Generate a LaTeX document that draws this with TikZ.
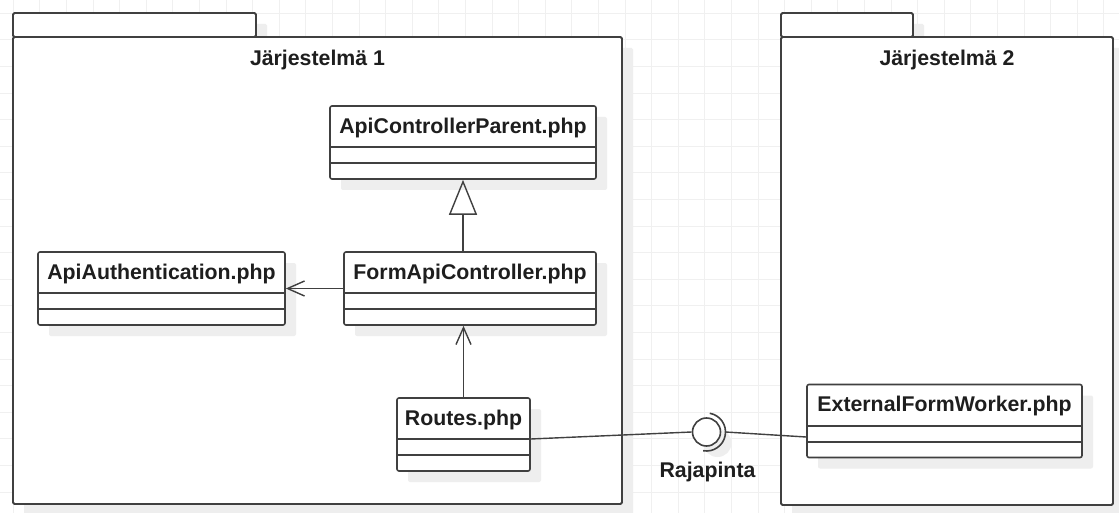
\documentclass[tikz,border=0pt]{standalone}
\usepackage{fontspec}
\setmainfont{Liberation Sans}
\usetikzlibrary{arrows.meta,shadows}
\definecolor{umlline}{RGB}{64,64,64}
\definecolor{umltext}{RGB}{30,30,30}
\definecolor{gridgray}{RGB}{240,240,240}
\definecolor{shadowgray}{RGB}{238,238,238}

\tikzset{
  boxshadow/.style={drop shadow={shadow xshift=11pt, shadow yshift=-11pt, fill=shadowgray, opacity=1}},
  gridline/.style={draw=gridgray, line width=1pt},
  pkgbox/.style={draw=umlline, line width=1.8pt, fill=white, rounded corners=1.5pt, boxshadow},
  classbox/.style={draw=umlline, line width=1.6pt, fill=white, rounded corners=2pt, minimum height=73pt, inner sep=0pt, boxshadow},
  umllabel/.style={anchor=base, text=umltext, font=\fontsize{21.3}{25}\selectfont\bfseries, inner sep=0pt},
  compline/.style={draw=umlline, line width=1.6pt},
  assoc/.style={draw=umlline, line width=1.4pt},
  dep/.style={assoc, -{Straight Barb[length=17pt, width=15pt]}},
  gen/.style={assoc, -{Triangle[open, length=35pt, width=28pt]}},
}

% class box: name, centre, width, text
\newcommand{\phpclass}[4]{%
  \node[classbox, minimum width=#3] (#1) at (#2) {};
  \node[umllabel] (#1-name) at ([yshift=-28pt]#1.north) {#4};
  \draw[compline] ([yshift=-42pt]#1.north west) -- ([yshift=-42pt]#1.north east);
  \draw[compline] ([yshift=-58pt]#1.north west) -- ([yshift=-58pt]#1.north east);
}

\begin{document}
\begin{tikzpicture}[x=1pt, y=-1pt]
\fill[white] (0,0) rectangle (1119,513);
\useasboundingbox (0,0) rectangle (1119,513);

% grid
\foreach \gx in {13.3,39.9,...,1119}
  \draw[gridline] (\gx,0) -- (\gx,513);
\foreach \gy in {13.3,39.9,...,513}
  \draw[gridline] (0,\gy) -- (1119,\gy);

% packages
\draw[pkgbox] (13,13) rectangle (256,37);
\draw[pkgbox] (13,37) rectangle (622,504);
\node[umllabel] (sys1) at (317.5,66) {Järjestelmä 1};

\draw[pkgbox] (781,13) rectangle (913,37);
\draw[pkgbox] (781,37) rectangle (1113,505);
\node[umllabel] (sys2) at (947,66) {Järjestelmä 2};

% classes
\phpclass{parent}{463,142.5}{266pt}{ApiControllerParent.php}
\phpclass{form}{470,288.5}{252pt}{FormApiController.php}
\phpclass{auth}{161.5,288.5}{247pt}{ApiAuthentication.php}
\phpclass{routes}{463.5,434.5}{133pt}{Routes.php}
\phpclass{worker}{944.5,421}{275pt}{ExternalFormWorker.php}

% interface
\node[circle, draw=umlline, line width=1.6pt, fill=white, minimum size=28pt, inner sep=0pt, boxshadow] (rajapinta) at (706.5,432) {};
\draw[umlline, line width=1.6pt] ([shift={(-80:19)}]rajapinta.center) arc[start angle=-80, end angle=100, radius=19];
\coordinate (socket) at ([xshift=19pt]rajapinta.center);
\node[umllabel] (rajapinta-label) at (707.5,477) {Rajapinta};

% connectors
\draw[gen] (parent.south |- form.north) -- (parent.south);
\draw[dep] (form.west) -- (auth.east);
\draw[dep] (routes.north) -- (routes.north |- form.south);
\draw[assoc] ([yshift=-4.5pt]routes.east) -- (rajapinta.west);
\draw[assoc] (socket) -- ([yshift=-16pt]worker.west);
\end{tikzpicture}
\end{document}
